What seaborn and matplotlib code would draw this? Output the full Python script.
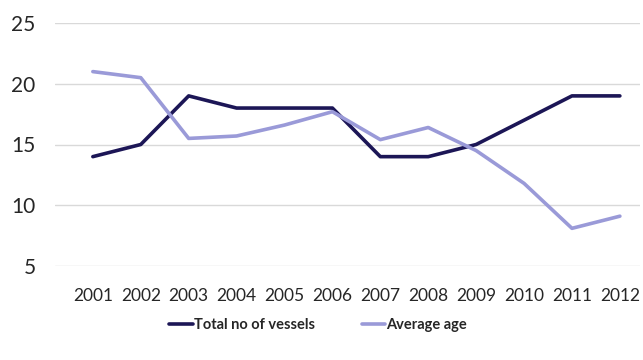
import matplotlib
matplotlib.use("Agg")
import matplotlib.pyplot as plt
import seaborn as sns
import pandas as pd

years = [2001, 2002, 2003, 2004, 2005, 2006, 2007, 2008, 2009, 2010, 2011, 2012]
total_vessels = [14, 15, 19, 18, 18, 18, 14, 14, 15, 17, 19, 19]
average_age = [21.0, 20.5, 15.5, 15.7, 16.6, 17.7, 15.4, 16.4, 14.5, 11.8, 8.1, 9.1]
series_names = ["Total no of vessels", "Average age"]
y_ticks = [5, 10, 15, 20, 25]

df = pd.DataFrame({
    "year": years * 2,
    "value": total_vessels + average_age,
    "series": [series_names[0]] * len(years) + [series_names[1]] * len(years),
})

sns.set_theme(style="white")
plt.rcParams["font.family"] = ["Lato", "DejaVu Sans"]

fig = plt.figure(figsize=(6.43, 3.6), dpi=100)
ax = fig.add_axes([55 / 643, 1 - 266 / 360, (640 - 55) / 643, (266 - 23) / 360])

palette = {series_names[0]: "#1c1656", series_names[1]: "#9a9ad8"}
sns.lineplot(data=df, x="year", y="value", hue="series", palette=palette,
             linewidth=2.6, ax=ax, legend=True)

ax.set_ylim(5, 25)
ax.set_xlim(2001 - 0.79, 2012 + 0.42)
ax.set_yticks(y_ticks)
ax.set_yticklabels([str(t) for t in y_ticks], fontsize=15)
ax.set_xticks(years)
ax.set_xticklabels([str(y) for y in years], fontsize=12.5)
ax.tick_params(axis="y", pad=14, length=0)
ax.tick_params(axis="x", pad=16, length=0)
ax.yaxis.grid(True, color="#d9d9d9", linewidth=1)
ax.xaxis.grid(False)
for s in ax.spines.values():
    s.set_visible(False)
ax.set_xlabel("")
ax.set_ylabel("")

leg = ax.legend(loc="upper center", bbox_to_anchor=(0.45, -0.16), ncol=2,
                frameon=False, fontsize=10.5, handlelength=1.6,
                handletextpad=0.1, columnspacing=3.2)
for t in leg.get_texts():
    t.set_fontweight("bold")

fig.savefig("out.png", dpi=100)
